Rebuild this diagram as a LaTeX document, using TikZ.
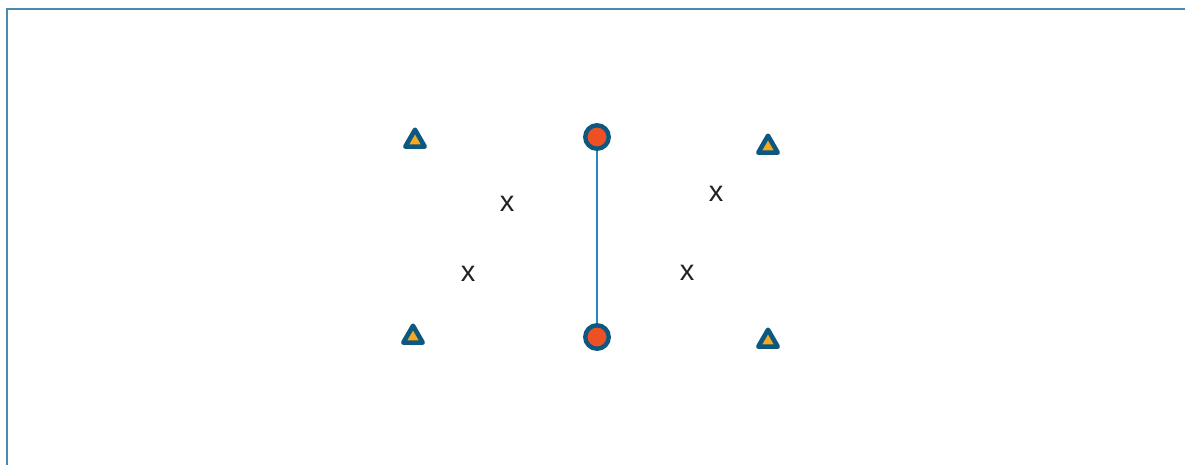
\documentclass[tikz,border=0pt]{standalone}
\usepackage{fontspec}
\setmainfont{Liberation Sans}
\usetikzlibrary{shapes.geometric}
\definecolor{framecol}{RGB}{72,138,178}
\definecolor{markblue}{RGB}{12,88,128}
\definecolor{markorange}{RGB}{246,168,30}
\definecolor{markred}{RGB}{238,80,38}
\definecolor{linkblue}{RGB}{38,136,192}
\definecolor{labelgray}{RGB}{34,34,34}
\tikzset{
  frame/.style={draw=framecol,line width=0.9pt},
  tri/.style={regular polygon,regular polygon sides=3,minimum size=0.45cm,inner sep=0pt,
    fill=markorange,draw=markblue,line width=2.6pt,line join=round},
  post/.style={circle,minimum size=0.47cm,inner sep=0pt,fill=markred,draw=markblue,line width=2.5pt},
  link/.style={draw=linkblue,line width=1.1pt},
  xlabel/.style={font=\fontsize{16.5}{19}\selectfont,text=labelgray,inner sep=0pt}
}
\begin{document}
\begin{tikzpicture}[x=0.02cm,y=-0.02cm]
  \clip (0,0) rectangle (1185,464);
  \draw[frame] (7,9) rectangle (1210,480);

  % posts and the line between them
  \node[post] (postTop) at (597,137) {};
  \node[post] (postBot) at (597,337) {};
  \draw[link] (postTop) -- (postBot);

  % triangle markers
  \node[tri] (triTL) at (415,141) {};
  \node[tri] (triTR) at (768,147) {};
  \node[tri] (triBL) at (413,337) {};
  \node[tri] (triBR) at (768,341) {};

  % x labels
  \node[xlabel] (xA) at (507,204) {x};
  \node[xlabel] (xB) at (468,274) {x};
  \node[xlabel] (xC) at (716,194) {x};
  \node[xlabel] (xD) at (687,273) {x};
\end{tikzpicture}
\end{document}
